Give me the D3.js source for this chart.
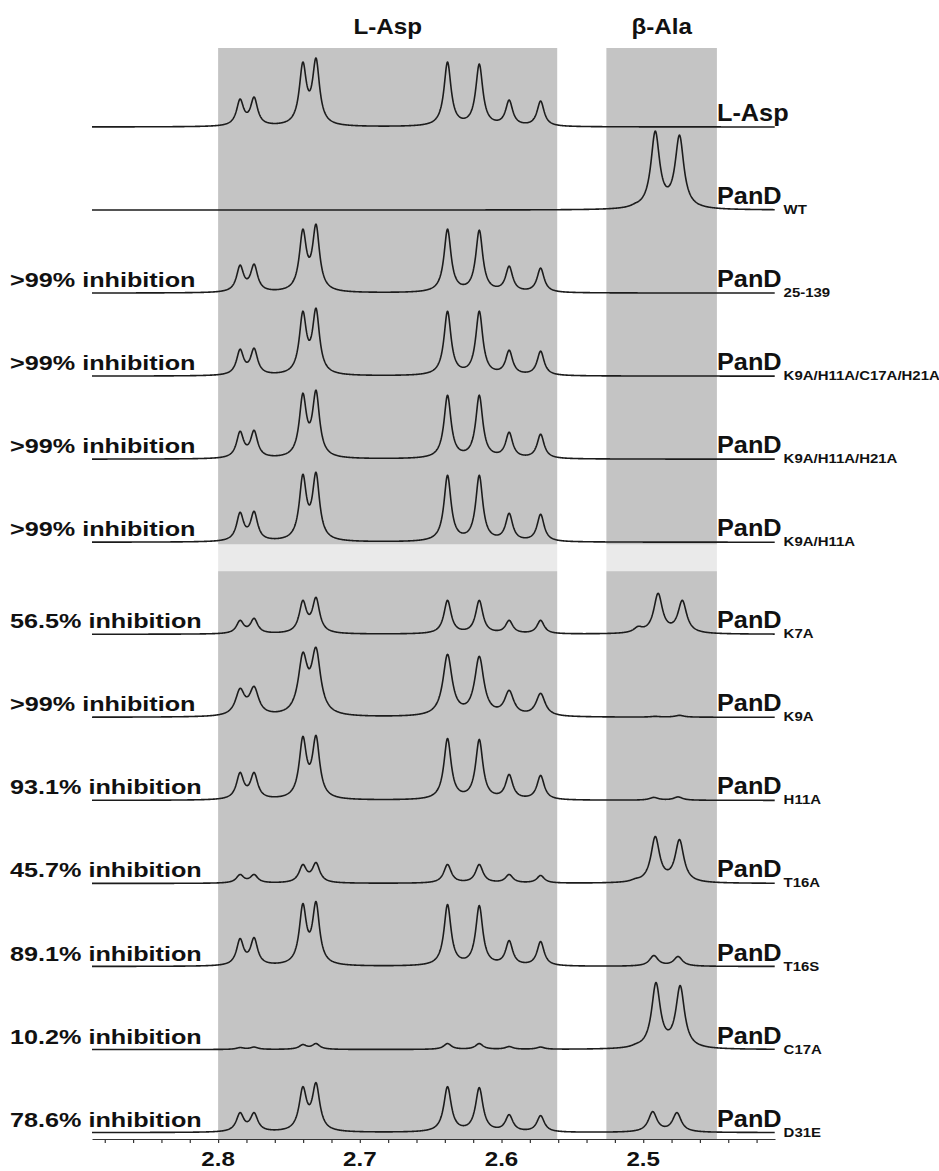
<!DOCTYPE html>
<html>
<head>
<meta charset="utf-8">
<script src="https://cdn.jsdelivr.net/npm/d3@7"></script>
<style>
body { margin: 0; background: #fff; }
text { font-family: "Liberation Sans", Arial, sans-serif; font-weight: bold; fill: #111; }
</style>
</head>
<body>
<script>
// chemical shifts (ppm) of the resolved lines
var aspPeaks = [2.7845, 2.7746, 2.7402, 2.7309, 2.6381, 2.6157, 2.5946, 2.5724]
var alaPeaks = [2.5056, 2.4915, 2.4744]

// spectra, top to bottom
var sampleNames = ['L-Asp', 'PanD', 'PanD', 'PanD', 'PanD', 'PanD', 'PanD', 'PanD', 'PanD', 'PanD', 'PanD', 'PanD', 'PanD']
var sampleSubs = ['', 'WT', '25-139', 'K9A/H11A/C17A/H21A', 'K9A/H11A/H21A', 'K9A/H11A', 'K7A', 'K9A', 'H11A', 'T16A', 'T16S', 'C17A', 'D31E']
var inhibition = ['', '', '>99%', '>99%', '>99%', '>99%', '56.5%', '>99%', '93.1%', '45.7%', '89.1%', '10.2%', '78.6%']

// peak heights (L-Asp lines)
var aspHeights = [
	[28, 30, 65, 69, 65, 63, 27, 26],
	[0, 0, 0, 0, 0, 0, 0, 0],
	[28, 29, 64, 69, 64, 63, 27, 25],
	[27, 28, 65, 68, 65, 65, 26, 25],
	[28, 29, 66, 69, 64, 64, 27, 25],
	[30, 31, 68, 70, 67, 67, 29, 28],
	[14, 16, 34, 37, 34, 34, 14, 14],
	[29, 31, 65, 70, 63, 61, 27, 24],
	[28, 28, 64, 65, 62, 61, 26, 25],
	[9, 9, 19, 21, 19, 19, 9, 8],
	[28, 29, 63, 65, 62, 61, 26, 25],
	[2, 2.5, 5, 6, 6, 6, 3, 2.5],
	[20, 20, 46, 50, 46, 45, 18, 17]
]

// peak heights of the beta-Ala lines (shoulder, doublet)
var alaHeights = [
	[0, 0, 0],
	[7, 79, 75],
	[0, 0, 0],
	[0, 0, 0],
	[0, 0, 0],
	[0, 0, 0],
	[8, 41, 34],
	[0, 1, 2],
	[0, 3, 3.5],
	[5, 47, 44],
	[0, 11, 10],
	[6, 67, 64],
	[0, 21, 20]
]

// small drift of the beta-Ala lines per sample (ppm)
var alaShift = [0, 0, 0, 0, 0, 0, -0.002, 0, 0.001, 0, 0.001, -0.0005, 0.0018]

// half widths (ppm)
var aspWidth = [0.003, 0.003, 0.003, 0.003, 0.003, 0.003, 0.0031, 0.0039, 0.0031, 0.0032, 0.003, 0.0033, 0.0032]
var alaWidth = 0.0037

// shaded regions and their titles
var bandRanges = [[2.800, 2.5607], [2.526, 2.448]]
var bandTitles = ['L-Asp', 'β-Ala']

// axis
var ppmDomain = [2.889, 2.407]
var minorTicks = d3.range(2.88, 2.415, -0.02)
var majorTicks = [2.8, 2.7, 2.6, 2.5]

var width = 939
var height = 1171

var x = d3.scaleLinear()
	.domain(ppmDomain)
	.range([92, 775])

// trace baselines, with the wider gap between the two blocks
function baseY(i) {
	return 127 + i * 83.05 + (i >= 6 ? 9 : 0)
}

var svg = d3.select('body')
	.append('svg')
		.attr('width', width)
		.attr('height', height)

// grey bands
svg.selectAll('rect.band')
		.data(bandRanges)
	.enter().append('rect')
		.attr('class', 'band')
		.attr('x', function(d) { return x(d[0]) })
		.attr('width', function(d) { return x(d[1]) - x(d[0]) })
		.attr('y', 48)
		.attr('height', 1139 - 48)
		.style('fill', '#c4c4c4')

// pale strip where the two panels were joined
svg.append('rect')
	.attr('x', 92)
	.attr('y', baseY(5) + 2)
	.attr('width', 690)
	.attr('height', 27)
	.style('fill', '#fff')
	.style('opacity', 0.65)

svg.selectAll('text.bandtitle')
		.data(bandTitles)
	.enter().append('text')
		.attr('class', 'bandtitle')
		.attr('text-anchor', 'middle')
		.attr('transform', function(d, i) {
			return 'translate(' + ((x(bandRanges[i][0]) + x(bandRanges[i][1])) / 2) + ',34) scale(1.1,1)'
		})
		.style('font-size', '22px')
		.text(function(d) { return d })

// lorentzian sum; amplitudes solved so the maxima match the read heights
function lor(v, p, g) {
	return g * g / (g * g + (v - p) * (v - p))
}

function makePeaks(i) {
	var peaks = []
	aspPeaks.forEach(function(p, j) {
		peaks.push({pos: p, h: aspHeights[i][j], g: aspWidth[i]})
	})
	alaPeaks.forEach(function(p, j) {
		peaks.push({pos: p + alaShift[i], h: alaHeights[i][j], g: alaWidth})
	})
	peaks.forEach(function(p) { p.a = p.h })
	for (var it = 0; it < 30; it++) {
		peaks.forEach(function(p) {
			var other = 0
			peaks.forEach(function(q) {
				if (q !== p) other += q.a * lor(p.pos, q.pos, q.g)
			})
			p.a = Math.max(0, p.h - other)
		})
	}
	return peaks
}

var ppmGrid = d3.range(ppmDomain[0], ppmDomain[1], -0.0003)

var line = d3.line()
	.x(function(d) { return x(d[0]) })
	.y(function(d) { return d[1] })

sampleNames.forEach(function(name, i) {
	var peaks = makePeaks(i)
	var y0 = baseY(i)
	var pts = ppmGrid.map(function(v) {
		var s = 0
		peaks.forEach(function(p) { s += p.a * lor(v, p.pos, p.g) })
		return [v, y0 - s]
	})

	svg.append('path')
		.attr('d', line(pts))
		.style('fill', 'none')
		.style('stroke', '#1c1c1c')
		.style('stroke-width', 1.6)
		.style('stroke-linejoin', 'round')

	// right label with subscript
	var lab = svg.append('text')
		.attr('transform', 'translate(717,' + (y0 - 6) + ') scale(1.1,1)')
		.style('font-size', '23px')
		.text(name)
	var labW = lab.node().getComputedTextLength() * 1.1

	if (sampleSubs[i]) {
		svg.append('text')
			.attr('transform', 'translate(' + (717 + labW + 2) + ',' + (y0 + 4) + ') scale(1.15,1)')
			.style('font-size', '13px')
			.text(sampleSubs[i])
	}

	// left label
	if (inhibition[i]) {
		svg.append('text')
			.attr('transform', 'translate(10,' + (y0 - 6) + ') scale(1.2,1)')
			.style('font-size', '21px')
			.text(inhibition[i] + ' inhibition')
	}
})

// ppm axis
var axis = svg.append('g')
	.attr('transform', 'translate(0,1139)')
	.call(d3.axisBottom(x)
		.tickValues(minorTicks)
		.tickSize(4)
		.tickSizeOuter(0)
		.tickFormat(''))

axis.select('.domain').style('stroke', '#333').style('stroke-width', 1.2)
axis.selectAll('.tick line').style('stroke', '#333').style('stroke-width', 1.2)

svg.selectAll('text.ticklabel')
		.data(majorTicks)
	.enter().append('text')
		.attr('class', 'ticklabel')
		.attr('text-anchor', 'middle')
		.attr('transform', function(d) { return 'translate(' + x(d) + ',1166) scale(1.15,1)' })
		.style('font-size', '21px')
		.text(function(d) { return d.toFixed(1) })
</script>
</body>
</html>
